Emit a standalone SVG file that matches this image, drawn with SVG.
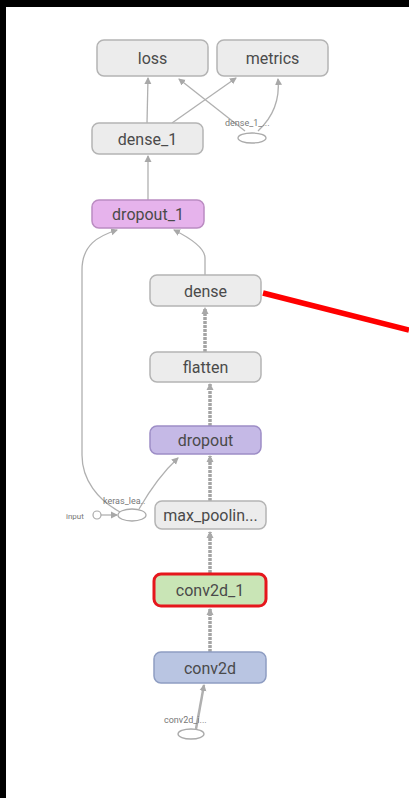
<svg xmlns="http://www.w3.org/2000/svg" width="409" height="798" viewBox="0 0 409 798">
<defs>
<marker id="ah" markerWidth="8" markerHeight="8" refX="6" refY="4" orient="auto" markerUnits="userSpaceOnUse">
<path d="M0,0.5 L7,4 L0,7.5 Z" fill="#a8a8a8"/>
</marker>
<style>
.n rect{fill:#ececec;stroke:#b4b4b4;stroke-width:1.5}
.n text{font-family:Roboto,"Liberation Sans",sans-serif;font-size:16px;fill:#4a4a4a;text-anchor:middle}
.e path{fill:none;stroke:#b0b0b0;stroke-width:1.3;marker-end:url(#ah)}
.e path.t{stroke:#a4a4a4;stroke-width:3.5;stroke-dasharray:3 1}
.s{font-family:Roboto,"Liberation Sans",sans-serif;font-size:9px;fill:#777}
.el{fill:#fff;stroke:#aaa;stroke-width:1.3}
</style>
</defs>
<rect x="0" y="0" width="409" height="798" fill="#fff"/>
<rect x="0" y="0" width="409" height="7" fill="#000"/>
<rect x="0" y="0" width="6" height="798" fill="#000"/>

<g class="e" id="connectors">
<path d="M147,123 L148,78"/>
<path d="M172,123 L236,78"/>
<path d="M245,131 L179,79"/>
<path d="M258,131 C272,118 280,100 278,79"/>
<path d="M148,200 L148,156"/>
<path d="M205,275 L205,258 C205,248 190,238 174,230"/>
<path d="M120,512 C98,500 82,480 82,455 L82,270 C82,245 98,236 117,230"/>
<path d="M139,509 C150,490 165,470 178,458"/>
<path d="M101,515 L117,515"/>
<path class="t" d="M205,352 L205,308"/>
<path class="t" d="M210,426 L210,384"/>
<path class="t" d="M210,501 L210,456"/>
<path class="t" d="M210,573 L210,532"/>
<path class="t" d="M210,652 L210,609"/>
<path d="M196,729 L204,685" style="stroke-width:2.5"/>
</g>

<g class="n" id="loss"><rect x="97" y="40" width="111" height="36" rx="7"/><text x="152.5" y="64">loss</text></g>
<g class="n" id="metrics"><rect x="217" y="40" width="111" height="36" rx="7"/><text x="272.5" y="64">metrics</text></g>
<g class="n" id="dense_1"><rect x="92" y="123" width="111" height="31" rx="7"/><text x="147.5" y="144.5">dense_1</text></g>
<g id="dense_1_aux"><ellipse class="el" cx="252" cy="138" rx="14" ry="5"/><text class="s" x="225" y="126">dense_1_...</text></g>
<g class="n" id="dropout_1"><rect x="92" y="200" width="112" height="28" rx="7" style="fill:#e6b3ec;stroke:#bb8cc2"/><text x="148" y="220">dropout_1</text></g>
<g class="n" id="dense"><rect x="150" y="275" width="111" height="31" rx="7"/><text x="205.5" y="296.5">dense</text></g>
<g class="n" id="flatten"><rect x="150" y="352" width="111" height="30" rx="7"/><text x="205.5" y="373">flatten</text></g>
<g class="n" id="dropout"><rect x="150" y="426" width="111" height="28" rx="7" style="fill:#c5b9e6;stroke:#9d8dc6"/><text x="205.5" y="446">dropout</text></g>
<g id="keras_learning"><ellipse class="el" cx="132" cy="515" rx="14" ry="6"/><text class="s" x="103" y="504">keras_lea..</text></g>
<g id="input"><text class="s" x="66" y="519" style="font-size:8px">input</text><circle cx="97" cy="515" r="4" fill="#fff" stroke="#aaa" stroke-width="1.2"/></g>
<g class="n" id="max_pooling"><rect x="155" y="501" width="111" height="28" rx="7"/><text x="210.5" y="521">max_poolin...</text></g>
<g class="n" id="conv2d_1"><rect x="154" y="574" width="112" height="32" rx="7" style="fill:#c9e5b6;stroke:#e5171d;stroke-width:3"/><text x="210" y="596">conv2d_1</text></g>
<g class="n" id="conv2d"><rect x="154" y="652" width="112" height="31" rx="7" style="fill:#b9c5e2;stroke:#8e9dc2"/><text x="210" y="673.5">conv2d</text></g>
<g id="conv2d_input"><text class="s" x="164" y="723">conv2d_i...</text><ellipse class="el" cx="191" cy="734" rx="13" ry="5"/></g>

<line x1="263" y1="293" x2="409" y2="330" stroke="#ff0000" stroke-width="5.5"/>
</svg>
